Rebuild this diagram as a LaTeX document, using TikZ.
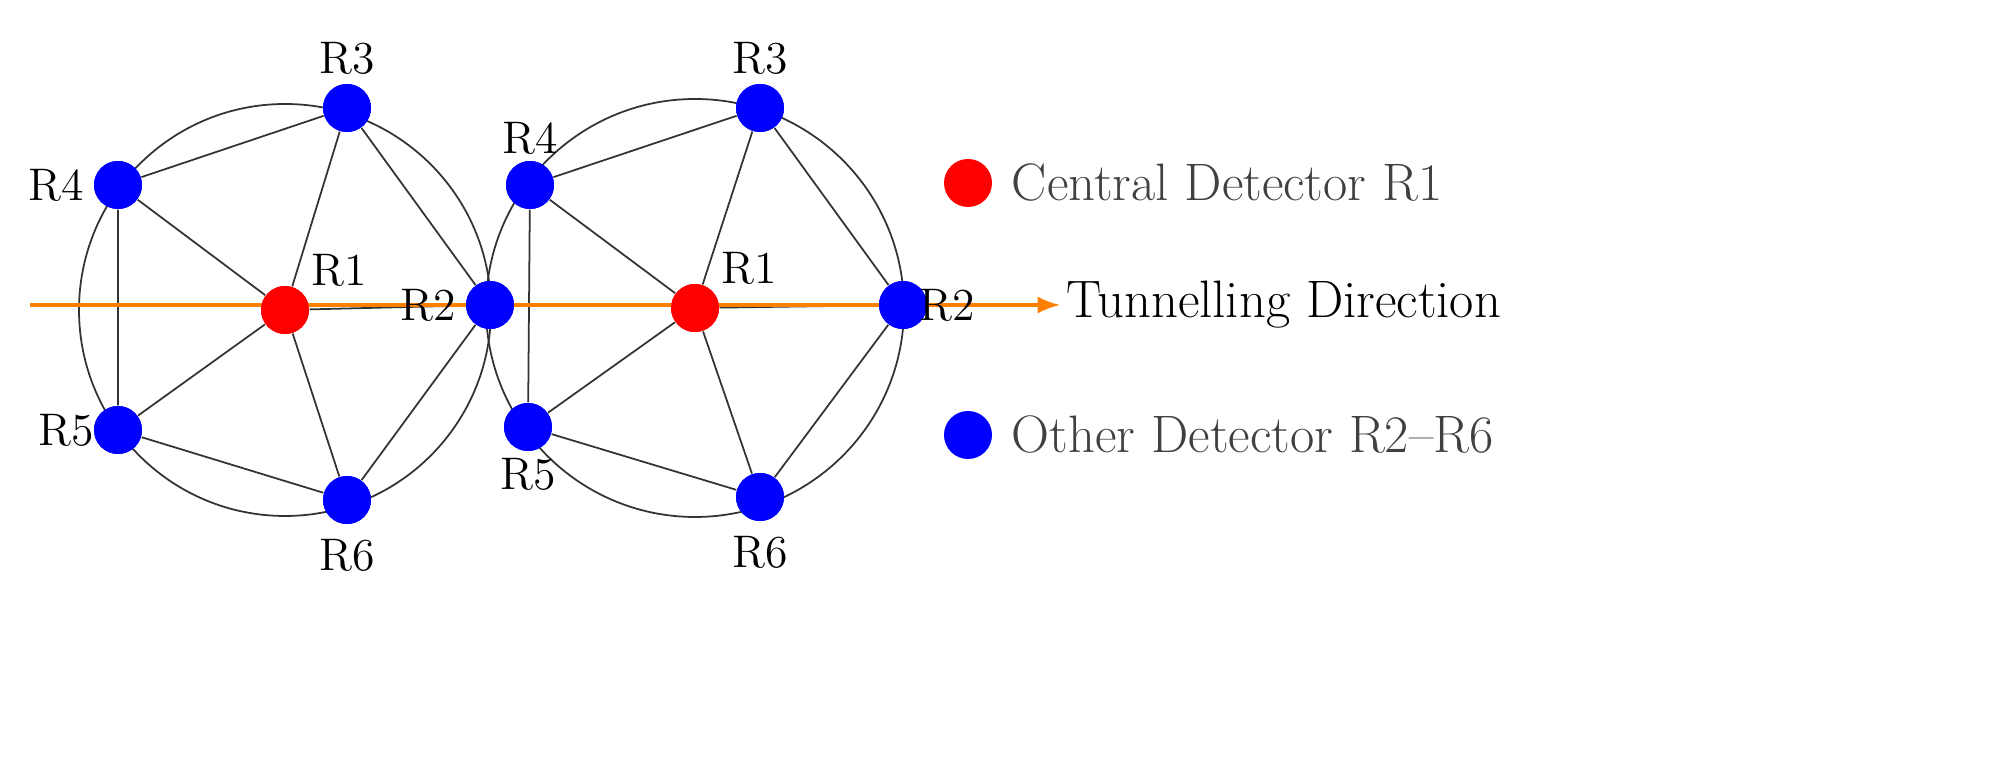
\documentclass[tikz,border=0pt]{standalone}
\usetikzlibrary{positioning,backgrounds}
\tikzset{
  det/.style={circle, fill=blue, minimum size=0.48cm, inner sep=0pt},
  cen/.style={circle, fill=red, minimum size=0.48cm, inner sep=0pt},
  lab/.style={font=\fontsize{13}{15}\selectfont, inner sep=1pt},
  edge/.style={black!80, line width=0.5pt}
}
\begin{document}
\begin{tikzpicture}
\useasboundingbox (0,0) rectangle (20.01,7.57);

% Left pentagon
\node[cen] (a1) at (2.85,4.47) {};
\node[det] (a2) at (4.90,4.52) {};
\node[det] (a3) at (3.47,6.49) {};
\node[det] (a4) at (1.18,5.72) {};
\node[det] (a5) at (1.18,3.27) {};
\node[det] (a6) at (3.47,2.57) {};

% Right pentagon
\node[cen] (b1) at (6.95,4.49) {};
\node[det] (b2) at (9.03,4.52) {};
\node[det] (b3) at (7.60,6.49) {};
\node[det] (b4) at (5.30,5.72) {};
\node[det] (b5) at (5.28,3.30) {};
\node[det] (b6) at (7.60,2.60) {};

% Direction arrow
\coordinate (start) at (0.30,4.52);
\coordinate (stop) at (10.60,4.52);

\begin{scope}[on background layer]
\draw[edge] (a1) circle (2.06);
\draw[edge] (b1) circle (2.09);
\foreach \p in {a,b}{
  \foreach \i in {2,...,6} \draw[edge] (\p1) -- (\p\i);
  \draw[edge] (\p2) -- (\p3) -- (\p4) -- (\p5) -- (\p6) -- (\p2);
}
\end{scope}
\draw[orange, line width=1.2pt, -latex] (start) -- (stop);
\foreach \p in {a,b}{
  \node[cen] at (\p1) {};
  \foreach \i in {2,...,6} \node[det] at (\p\i) {};
}
\node[lab, right=0.02 of stop, font=\fontsize{15}{17}\selectfont] (dir) {Tunnelling Direction};

% Labels
\node[lab, above right=0.02 and 0.05 of a1] {R1};
\node[lab, left=0.05 of a2] {R2};
\node[lab, above=0.05 of a3] {R3};
\node[lab, left=0.05 of a4] {R4};
\node[lab, left=-0.05 of a5] {R5};
\node[lab, below=0.1 of a6] {R6};
\node[lab, above right=0.02 and 0.05 of b1] {R1};
\node[lab, right=-0.12 of b2] {R2};
\node[lab, above=0.05 of b3] {R3};
\node[lab, above=0.02 of b4] {R4};
\node[lab, below=0.02 of b5] {R5};
\node[lab, below=0.1 of b6] {R6};

% Legend
\node[cen] (kr) at (9.68,5.74) {};
\node[lab, right=0.15 of kr, text=black!75, font=\fontsize{15}{17}\selectfont] {Central Detector R1};
\node[det] (kb) at (9.68,3.22) {};
\node[lab, right=0.15 of kb, text=black!75, font=\fontsize{15}{17}\selectfont] {Other Detector R2--R6};
\end{tikzpicture}
\end{document}
